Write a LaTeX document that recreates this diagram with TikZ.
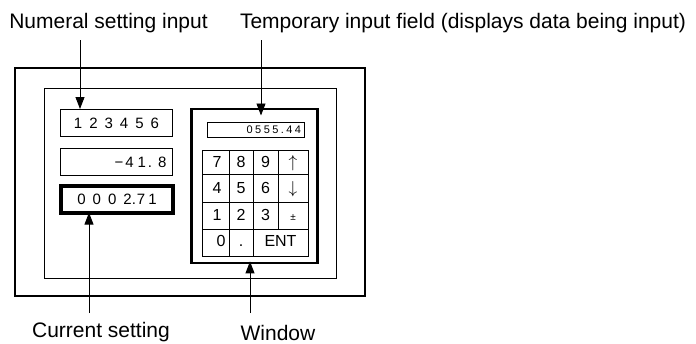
\documentclass[tikz,border=0pt]{standalone}
\usepackage{fontspec}
\setmainfont{Liberation Sans}
\usetikzlibrary{arrows.meta}
\newcommand{\dg}{\hspace{7pt}}
\tikzset{
  lbl/.style={font=\fontsize{21}{21}\selectfont,inner sep=0pt,anchor=base},
  dispbox/.style={draw,line width=1pt,minimum width=112pt,minimum height=27pt,inner sep=0pt,font=\fontsize{15}{15}\selectfont},
  curbox/.style={dispbox,line width=3.2pt},
  key/.style={inner sep=0pt,anchor=base,font=\fontsize{16}{16}\selectfont},
  callout/.style={-{Triangle[length=12pt,width=9pt]},line width=0.9pt}
}
\begin{document}
\begin{tikzpicture}[x=1pt,y=-1pt,line width=1pt]
\useasboundingbox (0,0) rectangle (696,343);
% panel
\draw[line width=2.8pt] (15,68) rectangle (365,296);
\draw (44,88) rectangle (336,278);
% setting displays
\node[dispbox] (setv) at (116.5,123) {1\dg2\dg3\dg4\dg5\dg6};
\node[dispbox,text width=100pt,align=right] (negv) at (116.5,162) {−\hspace{2pt}4\hspace{4pt}1\hspace{2pt}.\hspace{6pt}8};
\node[curbox] (curv) at (117,199.5) {0\dg0\dg0\dg2.\hspace{1pt}7\hspace{3pt}1};
% window with keypad
\node[draw,line width=2.8pt,minimum width=126pt,minimum height=154pt,inner sep=0pt] (win) at (254.5,186) {};
\node[draw,minimum width=97pt,minimum height=15pt,inner sep=0pt,text width=91pt,align=right,font=\fontsize{11}{11}\selectfont\addfontfeature{LetterSpace=22}] (tempf) at (255.5,129.5) {0555.44};
\draw (202,150) rectangle (308,256);
\draw (202,174) -- (308,174);
\draw (202,202) -- (308,202);
\draw (202,229) -- (308,229);
\draw (229,150) -- (229,256);
\draw (253,150) -- (253,256);
\draw (278,150) -- (278,229);
\foreach \a/\b/\c/\d [count=\r] in {7/8/9/$\uparrow$,4/5/6/$\downarrow$,1/2/3/{\fontsize{10}{10}\selectfont ±}}{
  \pgfmathsetmacro{\ky}{{167,193,220}[\r-1]}
  \node[key] (k\r a) at (217,\ky) {\a};
  \node[key] (k\r b) at (241,\ky) {\b};
  \node[key] (k\r c) at (265.5,\ky) {\c};
  \node[key] (k\r d) at (293,\ky) {\d};
}
\node[key] (kzero) at (221,246) {0};
\node[key] (kdot) at (241,246) {.};
\node[key] (kent) at (280.5,246) {ENT};
% labels
\node[lbl] (nsi) at (108.5,28) {Numeral setting input};
\node[lbl] (tif) at (463,28) {Temporary input field (displays data being input)};
\node[lbl] (cur) at (101,337) {Current setting};
\node[lbl] (wlb) at (278,340) {Window};
\coordinate (nsitail) at (80,40);
\coordinate (tiftail) at (261,40);
\coordinate (curtail) at (89,313);
\coordinate (wintail) at (250,313);
\draw[callout] (nsitail) -- (nsitail |- setv.north);
\draw[callout,shorten >=6pt] (tiftail) -- (tiftail |- tempf.north);
\draw[callout,shorten >=-2pt] (curtail) -- (curtail |- curv.south);
\draw[callout,shorten >=-3pt] (wintail) -- (wintail |- win.south);
\end{tikzpicture}
\end{document}
